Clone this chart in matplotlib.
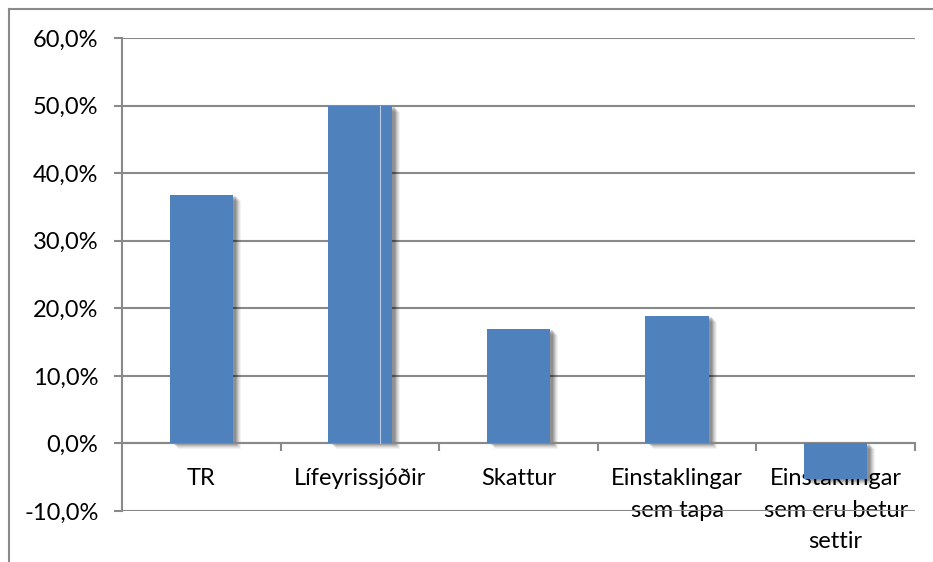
import matplotlib.pyplot as plt
import matplotlib.transforms as mtransforms
from matplotlib.lines import Line2D
from matplotlib.ticker import FuncFormatter, FixedLocator

categories = ["TR", "Lífeyrissjóðir", "Skattur",
              "Einstaklingar\nsem tapa", "Einstaklingar\nsem eru betur\nsettir"]
values = [36.8, 50.0, 16.9, 18.8, -5.3]
yticks = [-10, 0, 10, 20, 30, 40, 50, 60]

bar_color = "#4f81bd"
grid_color = "#898989"

plt.rcParams["font.family"] = ["Lato", "DejaVu Sans"]

fig = plt.figure(figsize=(9.33, 5.62), dpi=100)
ax = fig.add_axes([0.1308, 0.0907, 0.9807 - 0.1308, 0.9324 - 0.0907])

x = list(range(len(categories)))

# soft shadow: stacked offset copies with low alpha
for dx, dy, a in [(8, -6, 0.05), (7, -5, 0.06), (6, -4, 0.08), (5, -3, 0.10), (4, -2, 0.12), (3, -1, 0.12)]:
    off = mtransforms.ScaledTranslation(dx / 100, dy / 100, fig.dpi_scale_trans)
    ax.bar(x, values, width=0.4, color="#000000", alpha=a, linewidth=0,
           transform=ax.transData + off, zorder=2)

ax.bar(x, values, width=0.4, color=bar_color, linewidth=0, zorder=3)

# faint vertical seam inside the second bar
ax.plot([1.126, 1.126], [0, values[1]], color="#b9cbe2", lw=0.8, zorder=4)

ax.set_xlim(-0.5, len(categories) - 0.5)
ax.set_ylim(-10, 60)
ax.yaxis.set_major_locator(FixedLocator(yticks))
ax.yaxis.set_major_formatter(FuncFormatter(lambda v, p: f"{v:.1f}%".replace(".", ",")))
ax.yaxis.grid(True, color=grid_color, lw=1.5, zorder=0)
ax.set_axisbelow(True)

for s in ["top", "right"]:
    ax.spines[s].set_visible(False)
ax.spines["bottom"].set_position(("data", 0))
ax.spines["bottom"].set_color(grid_color)
ax.spines["bottom"].set_linewidth(1.5)
ax.spines["left"].set_color(grid_color)
ax.spines["left"].set_linewidth(1.5)

ax.set_xticks(x)
ax.set_xticklabels(categories, linespacing=1.6)
ax.set_xticks([i + 0.5 for i in x], minor=True)
ax.tick_params(axis="x", which="major", length=0, pad=18, labelsize=17)
ax.tick_params(axis="x", which="minor", length=6, width=1.5, color=grid_color, direction="out")
ax.tick_params(axis="y", length=6, width=1.5, color=grid_color, pad=11, labelsize=17)

# outer chart frame
fig.add_artist(Line2D([9 / 933, 9 / 933], [0, 1 - 9 / 562], transform=fig.transFigure,
                      color=grid_color, lw=1.5))
fig.add_artist(Line2D([9 / 933, 1], [1 - 9 / 562, 1 - 9 / 562], transform=fig.transFigure,
                      color=grid_color, lw=1.5))

fig.savefig("out.png", dpi=100)
